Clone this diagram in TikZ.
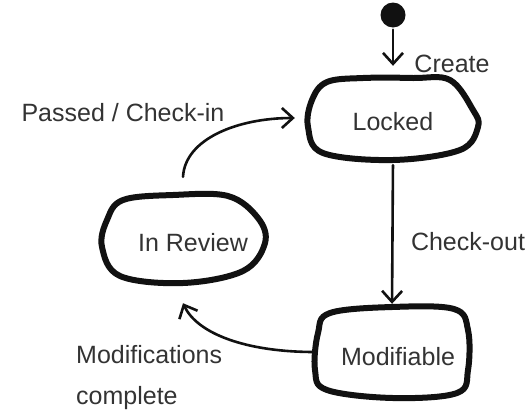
\documentclass[tikz,border=0pt]{standalone}
\usepackage{fontspec}
\setmainfont{Liberation Sans}
\usetikzlibrary{arrows.meta}
\definecolor{ink}{HTML}{111111}
\definecolor{pen}{HTML}{333333}
\tikzset{
  blob/.style={draw=ink, line width=6pt, line join=round},
  state/.style={draw=none, inner sep=0pt},
  lbl/.style={font=\fontsize{25}{28}\selectfont, text=pen, inner sep=0pt},
  flow/.style={draw=ink, line width=2.6pt, line cap=round,
    -{Straight Barb[length=11pt,width=20pt,line width=2.6pt]}},
}
\begin{document}
\begin{tikzpicture}[x=1pt,y=-1pt]
\useasboundingbox (0,0) rectangle (529,418);

% initial pseudo-state
\node[circle, fill=ink, minimum size=25pt, inner sep=0pt] (init) at (393,15) {};

% states
\node[state, minimum width=170pt, minimum height=84pt] (locked) at (393,118) {};
\node[state, minimum width=164pt, minimum height=90pt] (review) at (183,238) {};
\node[state, minimum width=154pt, minimum height=92pt] (modif) at (392,352) {};

% hand-drawn outlines
\draw[blob, shift={(locked.center)}] plot[smooth cycle, tension=0.6] coordinates {
  (-66,-36) (-30,-40) (20,-40) (57,-38) (80,-8) (85,9) (67,32) (0,42) (-70,35) (-85,9) (-81,-18)};
\draw[blob, shift={(review.center)}] plot[smooth cycle, tension=0.6] coordinates {
  (-60,-38) (-10,-43) (45,-42) (75,-20) (82,5) (60,33) (0,45) (-63,38) (-81,9) (-76,-18)};
\draw[blob, shift={(modif.center)}] plot[smooth cycle, tension=0.6] coordinates {
  (-62,-39) (0,-45) (62,-43) (76,-22) (76,18) (65,41) (1,46) (-65,38) (-77,18) (-74,-19)};

% state names
\node[lbl] at ([yshift=-4pt]locked.center) {Locked};
\node[lbl] at ([xshift=10pt,yshift=-5pt]review.center) {In Review};
\node[lbl] at ([xshift=6pt,yshift=-5pt]modif.center) {Modifiable};

% transitions
\draw[flow, shorten <=2pt, shorten >=10pt] (init) -- (locked.north);
\draw[flow, shorten <=5pt, shorten >=2pt] (locked.south) -- (modif.north);
\coordinate (rtop) at ([yshift=16pt]review.north);
\draw[flow, shorten >=13pt] (rtop) .. controls ++(2,-38) and ++(-70,0) .. (locked.west);
\coordinate (rbot) at ([yshift=-20pt]review.south);
\draw[flow] (modif.west) .. controls ++(-70,0) and ++(14,30) .. (rbot);

% transition labels
\node[lbl] at (452,64) {Create};
\node[lbl] at (468,242) {Check-out};
\node[lbl] at (123,113) {Passed / Check-in};
\node[lbl, anchor=west] at (76,355) {Modifications};
\node[lbl, anchor=west] at (76,398) {complete};
\end{tikzpicture}
\end{document}
